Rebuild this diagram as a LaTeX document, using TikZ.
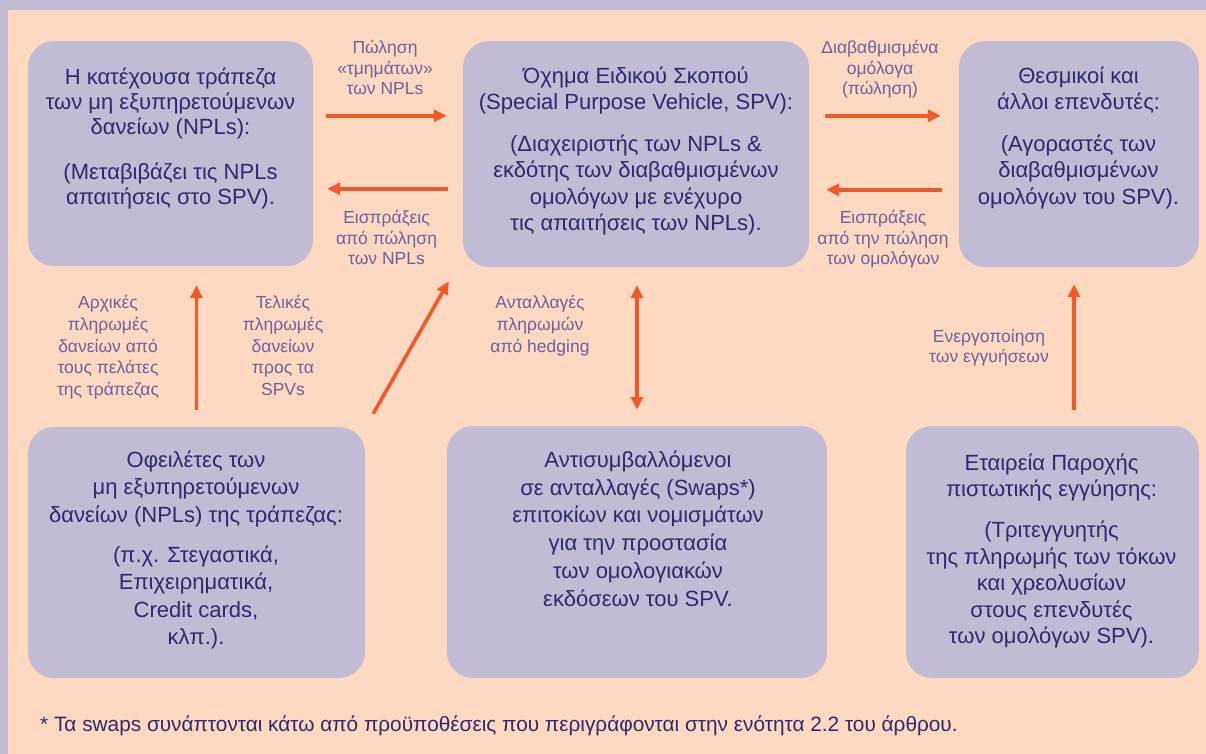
\documentclass[tikz,border=0pt]{standalone}
\usepackage{fontspec}
\setmainfont{Liberation Sans}
\usetikzlibrary{arrows.meta}
\definecolor{peach}{HTML}{FDD9C1}
\definecolor{lav}{HTML}{C1BBD4}
\definecolor{navy}{HTML}{2E2A6C}
\definecolor{labc}{HTML}{6A62A2}
\definecolor{arrc}{HTML}{F15A28}
\begin{document}
\begin{tikzpicture}[x=1pt,y=-1pt,
  boxnode/.style={fill=lav, draw=none, rounded corners=26pt, inner sep=0pt},
  maintext/.style={text=navy, align=center, inner sep=0pt, anchor=north,
    font=\fontsize{22}{26.5}\selectfont, execute at begin node=\strut},
  labeltext/.style={text=labc, align=center, inner sep=0pt, anchor=north,
    font=\fontsize{17.5}{20.5}\selectfont, execute at begin node=\strut},
  flow/.style={draw=arrc, line width=3.6pt, -{Triangle[length=13pt,width=12pt]}},
  flowboth/.style={draw=arrc, line width=3.6pt, {Triangle[length=13pt,width=12pt]}-{Triangle[length=13pt,width=12pt]}}
]
% background and frame
\fill[lav] (0,0) rectangle (1206,754);
\fill[peach] (8,10) rectangle (1206,754);
\useasboundingbox (0,0) rectangle (1206,754);

% boxes
\node[boxnode, minimum width=285pt, minimum height=225pt] (b1) at (170.5,153.5) {};
\node[boxnode, minimum width=346pt, minimum height=226pt] (b2) at (636,154) {};
\node[boxnode, minimum width=240pt, minimum height=226pt] (b3) at (1079,154) {};
\node[boxnode, minimum width=337pt, minimum height=251pt] (b4) at (196.5,552.5) {};
\node[boxnode, minimum width=380pt, minimum height=252pt] (b5) at (637,552) {};
\node[boxnode, minimum width=293pt, minimum height=252pt] (b6) at (1052.5,552) {};

% box texts
\node[maintext, font=\fontsize{22}{25}\selectfont] (t1) at (170.5,67.5)
  {Η κατέχουσα τράπεζα\\των μη εξυπηρετούμενων\\δανείων (NPLs):\\[20pt]
   (Μεταβιβάζει τις NPLs\\απαιτήσεις στο SPV).};
\node[maintext] (t2) at (636,66.5)
  {Όχημα Ειδικού Σκοπού\\(Special Purpose Vehicle, SPV):\\[15pt]
   (Διαχειριστής των NPLs \&\\εκδότης των διαβαθμισμένων\\ομολόγων με ενέχυρο\\τις απαιτήσεις των NPLs).};
\node[maintext] (t3) at (1078.5,66.5)
  {Θεσμικοί και\\άλλοι επενδυτές:\\[15pt]
   (Αγοραστές των\\διαβαθμισμένων\\ομολόγων του SPV).};
\node[maintext, font=\fontsize{22}{27.3}\selectfont] (t4) at (196,450.9)
  {Οφειλέτες των\\μη εξυπηρετούμενων\\δανείων (NPLs) της τράπεζας:\\[13pt]
   (π.χ. Στεγαστικά,\\Επιχειρηματικά,\\Credit cards,\\κλπ.).};
\node[maintext, font=\fontsize{22}{27.8}\selectfont] (t5) at (638,450.5)
  {Αντισυμβαλλόμενοι\\σε ανταλλαγές (Swaps*)\\επιτοκίων και νομισμάτων\\για την προστασία\\των ομολογιακών\\εκδόσεων του SPV.};
\node[maintext] (t6) at (1051.5,453.5)
  {Εταιρεία Παροχής\\πιστωτικής εγγύησης:\\[14.5pt]
   (Τριτεγγυητής\\της πληρωμής των τόκων\\και χρεολυσίων\\στους επενδυτές\\των ομολόγων SPV).};

% connectors
\draw[flow] ([shift={(13,75)}]b1.north east) -- ([shift={(-16,75)}]b2.north west);
\draw[flow] ([shift={(-15,148)}]b2.north west) -- ([shift={(14,148)}]b1.north east);
\draw[flow] ([shift={(16,75)}]b2.north east) -- ([shift={(-18,75)}]b3.north west);
\draw[flow] ([shift={(-17,149)}]b3.north west) -- ([shift={(17,149)}]b2.north east);
\draw[flow] ([yshift=17pt]b4.north) -- ([yshift=-19pt]b1.south -| b4.north);
\draw[flow] ([shift={(8,-13)}]b4.north east) -- ([shift={(-14,14)}]b2.south west);
\draw[flowboth] ([yshift=-18pt]b2.south -| b5.north) -- ([yshift=16pt]b5.north);
\draw[flow] ([shift={(21.5,-16)}]b6.north) -- ([shift={(21.5,17)}]b3.south -| b6.north);

% connector labels
\node[labeltext] (l1) at (385,40.2) {Πώληση\\«τμημάτων»\\των NPLs};
\node[labeltext] (l2) at (386.5,210.2) {Εισπράξεις\\από πώληση\\των NPLs};
\node[labeltext] (l3) at (880,40.2) {Διαβαθμισμένα\\ομόλογα\\(πώληση)};
\node[labeltext] (l4) at (883,210.2) {Εισπράξεις\\από την πώληση\\των ομολόγων};
\node[labeltext, font=\fontsize{17.5}{21.7}\selectfont] (l5) at (108,295.3)
  {Αρχικές\\πληρωμές\\δανείων από\\τους πελάτες\\της τράπεζας};
\node[labeltext, font=\fontsize{17.5}{21.7}\selectfont] (l6) at (283,295.3)
  {Τελικές\\πληρωμές\\δανείων\\προς τα\\SPVs};
\node[labeltext, font=\fontsize{17.5}{21.7}\selectfont] (l7) at (540,295.3)
  {Ανταλλαγές\\πληρωμών\\από hedging};
\node[labeltext, font=\fontsize{17.5}{20}\selectfont] (l8) at (989,329.5)
  {Ενεργοποίηση\\των εγγυήσεων};

% footnote
\node[text=navy, inner sep=0pt, anchor=base west, font=\fontsize{20.8}{24}\selectfont] (fn) at (40,731)
  {* Τα swaps συνάπτονται κάτω από προϋποθέσεις που περιγράφονται στην ενότητα 2.2 του άρθρου.};
\end{tikzpicture}
\end{document}
